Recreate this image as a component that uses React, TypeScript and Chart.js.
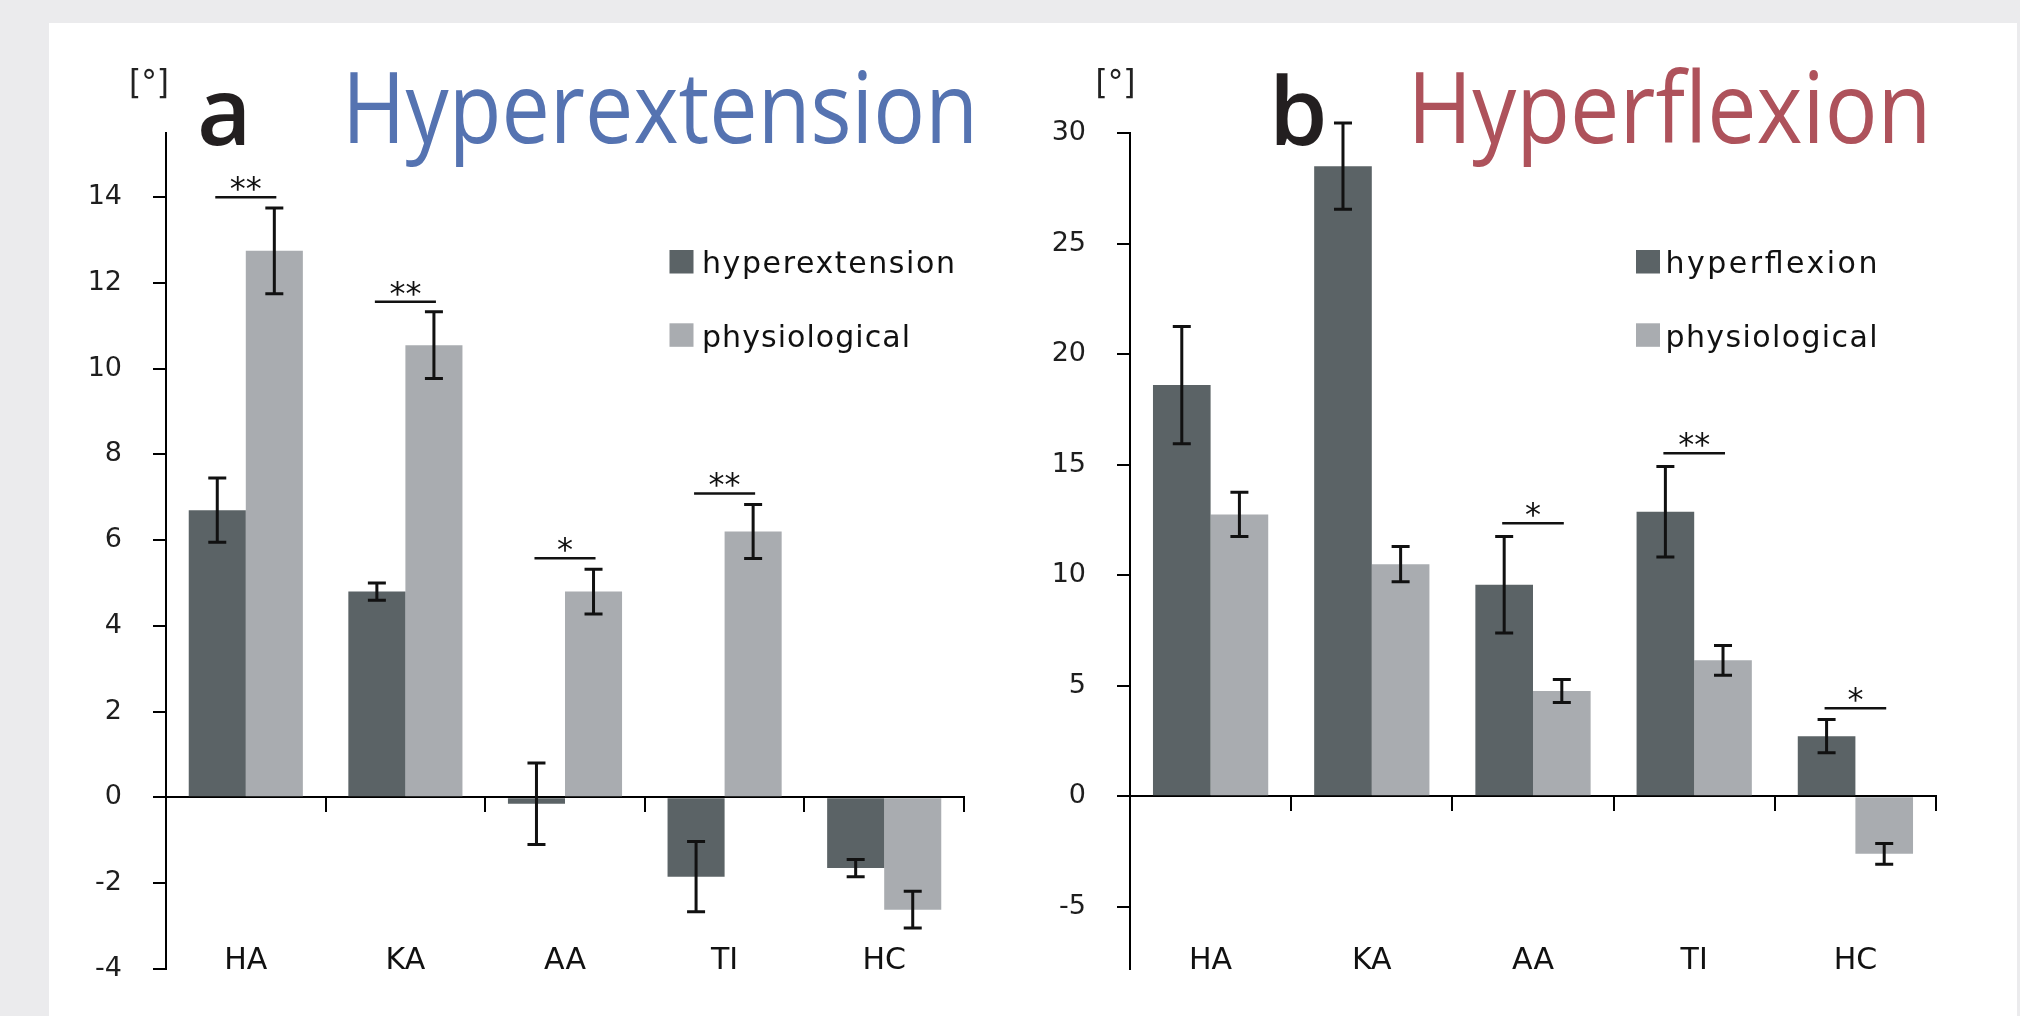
import React, { useEffect, useRef } from 'react';
import { Chart, registerables } from 'chart.js';

Chart.register(...registerables);

// ---------------- data ----------------
const categories = ['HA', 'KA', 'AA', 'TI', 'HC'];

// panel a – hyperextension vs physiological
const extensionValues = [6.7, 4.8, -0.15, -1.85, -1.65];
const extensionErrors = [0.75, 0.2, 0.95, 0.82, 0.2];
const physioValuesA = [12.75, 10.55, 4.8, 6.2, -2.62];
const physioErrorsA = [1.0, 0.78, 0.52, 0.63, 0.43];

// panel b – hyperflexion vs physiological
const flexionValues = [18.6, 28.5, 9.57, 12.87, 2.72];
const flexionErrors = [2.65, 1.95, 2.18, 2.05, 0.75];
const physioValuesB = [12.75, 10.5, 4.76, 6.15, -2.6];
const physioErrorsB = [1.0, 0.8, 0.52, 0.67, 0.47];

// axis ticks
const yTicksA = [-4, -2, 0, 2, 4, 6, 8, 10, 12, 14];
const yTicksB = [-5, 0, 5, 10, 15, 20, 25, 30];

// significance markers (category index, mark, level in data units)
const sigCatsA = [0, 1, 2, 3];
const sigMarksA = ['**', '**', '*', '**'];
const sigLevelsA = [14.0, 11.56, 5.58, 7.09];
const sigCatsB = [2, 3, 4];
const sigMarksB = ['*', '**', '*'];
const sigLevelsB = [12.35, 15.52, 3.98];

// ---------------- styles ----------------
const DARK = '#5b6366';
const LIGHT = '#a9acb0';
const AXIS_FONT = "'DejaVu Sans', Verdana, sans-serif";
const TITLE_FONT = "'Open Sans', 'Noto Sans', sans-serif";

const errorBarPlugin = {
  id: 'errorBars',
  afterDatasetsDraw(chart: any) {
    const { ctx } = chart;
    const yScale = chart.scales.y;
    const cap = 9;
    ctx.save();
    ctx.strokeStyle = '#111';
    ctx.lineWidth = 3;
    chart.data.datasets.forEach((ds: any, di: number) => {
      const meta = chart.getDatasetMeta(di);
      meta.data.forEach((bar: any, i: number) => {
        const v = ds.data[i];
        const e = ds.errors[i];
        const x = bar.x;
        const yt = yScale.getPixelForValue(v + e);
        const yb = yScale.getPixelForValue(v - e);
        ctx.beginPath();
        ctx.moveTo(x, yt);
        ctx.lineTo(x, yb);
        ctx.moveTo(x - cap, yt);
        ctx.lineTo(x + cap, yt);
        ctx.moveTo(x - cap, yb);
        ctx.lineTo(x + cap, yb);
        ctx.stroke();
      });
    });
    ctx.restore();
  },
};

const sigPlugin = {
  id: 'sigMarks',
  afterDatasetsDraw(chart: any, _args: any, opts: any) {
    const { ctx } = chart;
    const yScale = chart.scales.y;
    const m0 = chart.getDatasetMeta(0);
    const m1 = chart.getDatasetMeta(1);
    ctx.save();
    ctx.strokeStyle = '#111';
    ctx.fillStyle = '#111';
    ctx.lineWidth = 2.5;
    ctx.font = `32px ${AXIS_FONT}`;
    ctx.textAlign = 'center';
    ctx.textBaseline = 'alphabetic';
    opts.cats.forEach((c: number, k: number) => {
      const x1 = m0.data[c].x - 2;
      const x2 = m1.data[c].x + 2;
      const yy = yScale.getPixelForValue(opts.levels[k]);
      ctx.beginPath();
      ctx.moveTo(x1, yy);
      ctx.lineTo(x2, yy);
      ctx.stroke();
      ctx.fillText(opts.marks[k], (x1 + x2) / 2, yy + 2);
    });
    ctx.restore();
  },
};

function buildConfig(spec: any): any {
  return {
    type: 'bar',
    data: {
      labels: categories,
      datasets: [
        {
          label: spec.darkLabel,
          data: spec.dark,
          errors: spec.darkErr,
          backgroundColor: DARK,
          xAxisID: 'x',
          yAxisID: 'y',
          categoryPercentage: 0.715,
          barPercentage: 1,
        },
        {
          label: 'physiological',
          data: spec.light,
          errors: spec.lightErr,
          backgroundColor: LIGHT,
          xAxisID: 'x',
          yAxisID: 'y',
          categoryPercentage: 0.715,
          barPercentage: 1,
        },
      ],
    },
    options: {
      responsive: false,
      maintainAspectRatio: false,
      animation: false,
      devicePixelRatio: 1,
      layout: { padding: { top: 133, bottom: 44, left: 0, right: spec.padRight } },
      plugins: {
        legend: { display: false },
        tooltip: { enabled: false },
        title: { display: false },
        sigMarks: { cats: spec.sigCats, marks: spec.sigMarks, levels: spec.sigLevels },
      },
      scales: {
        y: {
          type: 'linear',
          position: 'left',
          min: spec.min,
          max: spec.max,
          afterFit: (s: any) => {
            s.width = spec.axisX;
          },
          afterBuildTicks: (s: any) => {
            s.ticks = spec.ticks.map((v: number) => ({ value: v }));
          },
          ticks: { font: { family: AXIS_FONT, size: 27 }, color: '#1e1e1e', padding: 31 },
          grid: { drawOnChartArea: false, drawTicks: true, tickLength: 13, color: '#000', lineWidth: 2 },
          border: { display: true, color: '#000', width: 2 },
        },
        x: {
          type: 'category',
          position: { y: 0 },
          offset: true,
          ticks: { display: false },
          grid: { offset: true, drawOnChartArea: false, drawTicks: true, tickLength: 14, color: '#000', lineWidth: 2 },
          border: { display: true, color: '#000', width: 2 },
        },
        xl: {
          type: 'category',
          position: 'bottom',
          offset: true,
          grid: { display: false, drawTicks: false },
          border: { display: false },
          ticks: {
            font: { family: AXIS_FONT, size: 30 },
            color: '#111',
            padding: -10,
            mirror: true,
            maxRotation: 0,
            autoSkip: false,
          },
          afterFit: (s: any) => {
            s.height = 0;
          },
        },
      },
    },
    plugins: [errorBarPlugin, sigPlugin],
  };
}

const specA = {
  darkLabel: 'hyperextension',
  dark: extensionValues,
  darkErr: extensionErrors,
  light: physioValuesA,
  lightErr: physioErrorsA,
  min: -4,
  max: 15.5,
  ticks: yTicksA,
  axisX: 166,
  padRight: 36,
  sigCats: sigCatsA,
  sigMarks: sigMarksA,
  sigLevels: sigLevelsA,
};

const specB = {
  darkLabel: 'hyperflexion',
  dark: flexionValues,
  darkErr: flexionErrors,
  light: physioValuesB,
  lightErr: physioErrorsB,
  min: -7.8,
  max: 30,
  ticks: yTicksB,
  axisX: 130,
  padRight: 84,
  sigCats: sigCatsB,
  sigMarks: sigMarksB,
  sigLevels: sigLevelsB,
};

function Legend({ x, textX, items, textLen }: any) {
  return (
    <g>
      {items.map((it: any, i: number) => (
        <g key={it.label}>
          <rect x={x} y={250 + i * 73.3} width={24} height={23.5} fill={it.color} />
          <text
            x={textX}
            y={273.3 + i * 73.3}
            fontFamily={AXIS_FONT}
            fontSize={30}
            fill="#111"
            textLength={textLen[i]}
            lengthAdjust="spacing"
          >
            {it.label}
          </text>
        </g>
      ))}
    </g>
  );
}

export default function App() {
  const leftRef = useRef<HTMLCanvasElement>(null);
  const rightRef = useRef<HTMLCanvasElement>(null);

  useEffect(() => {
    const a = new Chart(leftRef.current as HTMLCanvasElement, buildConfig(specA));
    const b = new Chart(rightRef.current as HTMLCanvasElement, buildConfig(specB));
    return () => {
      a.destroy();
      b.destroy();
    };
  }, []);

  return (
    <div
      style={{
        position: 'fixed',
        left: 0,
        top: 0,
        width: 2020,
        height: 1016,
        background: '#ebebed',
        overflow: 'hidden',
      }}
    >
      <div style={{ position: 'absolute', left: 49, top: 23, width: 1968, height: 993, background: '#fff' }} />
      <canvas ref={leftRef} width={1000} height={1016} style={{ position: 'absolute', left: 0, top: 0 }} />
      <canvas ref={rightRef} width={1020} height={1016} style={{ position: 'absolute', left: 1000, top: 0 }} />
      <svg
        width={2020}
        height={1016}
        style={{ position: 'absolute', left: 0, top: 0, pointerEvents: 'none' }}
      >
        {/* unit labels */}
        <text x={129} y={93.9} fontFamily={AXIS_FONT} fontSize={34} fill="#222" textLength={40} lengthAdjust="spacingAndGlyphs">[°]</text>
        <text x={1095.5} y={93.9} fontFamily={AXIS_FONT} fontSize={34} fill="#222" textLength={40} lengthAdjust="spacingAndGlyphs">[°]</text>

        {/* panel titles */}
        <text x={197} y={145} fontFamily={TITLE_FONT} fontWeight={600} fontSize={94} fill="#231f20">a</text>
        <text
          x={342}
          y={143.3}
          fontFamily={TITLE_FONT}
          fontSize={98}
          fill="#5573b1"
          textLength={636}
          lengthAdjust="spacingAndGlyphs"
        >
          Hyperextension
        </text>
        <text x={1269} y={145} fontFamily={TITLE_FONT} fontWeight={600} fontSize={94} fill="#231f20">b</text>
        <text
          x={1407.5}
          y={143.3}
          fontFamily={TITLE_FONT}
          fontSize={98}
          fill="#ae525b"
          textLength={524}
          lengthAdjust="spacingAndGlyphs"
        >
          Hyperflexion
        </text>

        <Legend
          x={669.5}
          textX={702}
          textLen={[253, 208]}
          items={[
            { label: 'hyperextension', color: DARK },
            { label: 'physiological', color: LIGHT },
          ]}
        />
        <Legend
          x={1636}
          textX={1665.5}
          textLen={[212, 212]}
          items={[
            { label: 'hyperflexion', color: DARK },
            { label: 'physiological', color: LIGHT },
          ]}
        />
      </svg>
    </div>
  );
}
